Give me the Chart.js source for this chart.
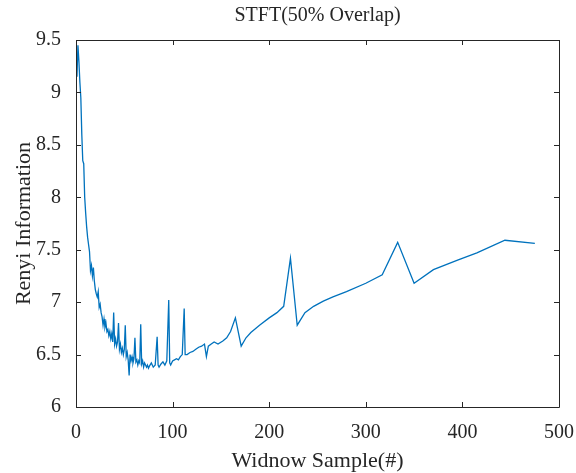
<!DOCTYPE html>
<html>
<head>
<meta charset="utf-8">
<script src="https://cdn.jsdelivr.net/npm/chart.js@4.4.1/dist/chart.umd.min.js"></script>
<style>
  html, body { margin: 0; padding: 0; background: #fff; }
</style>
</head>
<body>
<canvas id="chart" width="576" height="473"></canvas>
<script>
// window sample index (x) and Renyi information (y)
const windowSample = [
  1, 2, 3, 4, 5, 6, 7, 8, 9, 10,
  11, 12, 13, 14, 15, 16, 17, 18, 19, 20,
  21, 22, 23, 24, 25, 26, 27, 28, 29, 30,
  31, 32, 33, 34, 35, 36, 37, 38, 39, 40,
  41, 42, 43, 44, 45, 46, 47, 48, 49, 50,
  51, 52, 53, 54, 55, 56, 57, 58, 59, 60,
  61, 62, 63, 64, 65, 66, 67, 68, 69, 70,
  71, 72, 73, 74, 75, 76, 78, 80, 82, 84,
  85, 86, 88, 90, 92, 94, 96, 97, 98, 100,
  102, 104, 106, 108, 110, 112, 113, 115, 118, 121,
  124, 127, 130, 133, 135, 137, 140, 143, 147, 152,
  156, 160, 165, 171, 176, 181, 190, 200, 208, 215,
  222, 229, 237, 246, 256, 266, 280, 300, 317, 333,
  350, 370, 395, 415, 444, 475
]
const renyiInfo = [
  9.15, 9.45, 9.30, 9.10, 8.95, 8.60, 8.35, 8.32, 8.00, 7.85,
  7.72, 7.62, 7.55, 7.48, 7.30, 7.35, 7.25, 7.33, 7.20, 7.12,
  7.08, 7.05, 7.10, 6.95, 6.98, 6.90, 6.86, 6.78, 6.84, 6.76,
  6.80, 6.72, 6.74, 6.68, 6.72, 6.65, 6.70, 6.62, 6.90, 6.60,
  6.65, 6.58, 6.62, 6.80, 6.55, 6.60, 6.52, 6.56, 6.50, 6.55,
  6.78, 6.48, 6.52, 6.45, 6.30, 6.50, 6.44, 6.48, 6.42, 6.46,
  6.66, 6.43, 6.45, 6.40, 6.44, 6.42, 6.79, 6.41, 6.44, 6.38,
  6.42, 6.40, 6.38, 6.40, 6.37, 6.39, 6.42, 6.38, 6.40, 6.67,
  6.40, 6.38, 6.41, 6.43, 6.40, 6.44, 7.02, 6.42, 6.40, 6.44,
  6.45, 6.46, 6.45, 6.48, 6.50, 6.94, 6.50, 6.50, 6.52, 6.53,
  6.55, 6.57, 6.58, 6.60, 6.48, 6.58, 6.60, 6.62, 6.60, 6.63,
  6.66, 6.72, 6.85, 6.58, 6.66, 6.71, 6.78, 6.85, 6.90, 6.96,
  7.42, 6.78, 6.90, 6.96, 7.01, 7.05, 7.10, 7.18, 7.26, 7.57,
  7.18, 7.31, 7.40, 7.47, 7.59, 7.56
]
const xTicks = [0, 100, 200, 300, 400, 500]
const yTicks = [6, 6.5, 7, 7.5, 8, 8.5, 9, 9.5]

const axisColor = '#262626'
const serif = '"Liberation Serif", "Times New Roman", serif'

const points = windowSample.map((x, i) => ({ x: x, y: renyiInfo[i] }))

// MATLAB style box with inward ticks plus the title and axis labels
const matlabAxes = {
  id: 'matlabAxes',
  afterDraw(chart) {
    const ctx = chart.ctx
    const area = chart.chartArea
    const xs = chart.scales.x
    const ys = chart.scales.y
    const tick = 5
    ctx.save()
    ctx.strokeStyle = axisColor
    ctx.lineWidth = 1
    ctx.beginPath()
    ctx.rect(Math.round(area.left) + 0.5, Math.round(area.top) + 0.5,
      Math.round(area.right - area.left), Math.round(area.bottom - area.top))
    xTicks.forEach(v => {
      const px = Math.round(xs.getPixelForValue(v)) + 0.5
      ctx.moveTo(px, area.bottom); ctx.lineTo(px, area.bottom - tick)
      ctx.moveTo(px, area.top); ctx.lineTo(px, area.top + tick)
    })
    yTicks.forEach(v => {
      const py = Math.round(ys.getPixelForValue(v)) + 0.5
      ctx.moveTo(area.left, py); ctx.lineTo(area.left + tick, py)
      ctx.moveTo(area.right, py); ctx.lineTo(area.right - tick, py)
    })
    ctx.stroke()

    ctx.fillStyle = axisColor
    ctx.textAlign = 'center'
    ctx.textBaseline = 'middle'
    const cx = (area.left + area.right) / 2
    const cy = (area.top + area.bottom) / 2
    ctx.font = '20px ' + serif
    ctx.fillText('STFT(50% Overlap)', cx, 16)
    ctx.font = '22px ' + serif
    ctx.fillText('Widnow Sample(#)', cx, 461)
    ctx.translate(24, cy)
    ctx.rotate(-Math.PI / 2)
    ctx.fillText('Renyi Information', 0, 0)
    ctx.restore()
  }
}

new Chart(document.getElementById('chart'), {
  type: 'line',
  data: {
    datasets: [{
      data: points,
      borderColor: '#0072BD',
      borderWidth: 1.3,
      pointRadius: 0,
      tension: 0,
      fill: false
    }]
  },
  options: {
    responsive: false,
    animation: false,
    devicePixelRatio: 1,
    layout: { padding: { top: 40, right: 17, left: 0, bottom: 0 } },
    plugins: {
      legend: { display: false },
      tooltip: { enabled: false },
      title: { display: false }
    },
    scales: {
      x: {
        type: 'linear',
        min: 0,
        max: 500,
        afterBuildTicks: s => { s.ticks = xTicks.map(v => ({ value: v })) },
        afterFit: s => { s.height = 66; s.paddingLeft = 0; s.paddingRight = 0 },
        grid: { display: false },
        border: { display: false },
        ticks: {
          padding: 6,
          maxRotation: 0,
          color: axisColor,
          font: { family: serif, size: 20 },
          callback: v => String(v)
        }
      },
      y: {
        type: 'linear',
        min: 6,
        max: 9.5,
        afterBuildTicks: s => { s.ticks = yTicks.map(v => ({ value: v })) },
        afterFit: s => { s.width = 76; s.paddingTop = 0; s.paddingBottom = 0 },
        grid: { display: false },
        border: { display: false },
        ticks: {
          padding: 7,
          color: axisColor,
          font: { family: serif, size: 20 },
          callback: v => String(v)
        }
      }
    }
  },
  plugins: [matlabAxes]
})
</script>
</body>
</html>
